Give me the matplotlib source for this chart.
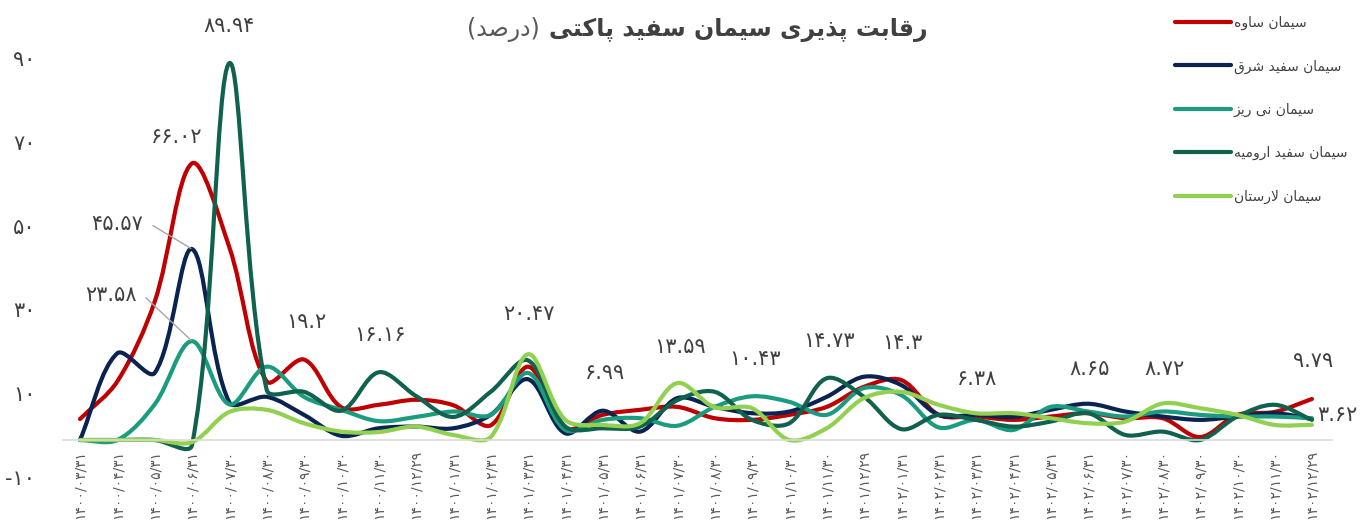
import math
import matplotlib
matplotlib.use('Agg')
import matplotlib.pyplot as plt
from matplotlib.path import Path
from matplotlib.patches import PathPatch
from matplotlib.lines import Line2D
from matplotlib.transforms import ScaledTranslation

plt.rcParams['font.family'] = ['DejaVu Sans']

# data
dates = ['1400/03/31', '1400/04/31', '1400/05/31', '1400/06/31', '1400/07/30', '1400/08/30',
         '1400/09/30', '1400/10/30', '1400/11/30', '1400/12/29',
         '1401/01/31', '1401/02/31', '1401/03/31', '1401/04/31', '1401/05/31', '1401/06/31',
         '1401/07/30', '1401/08/30', '1401/09/30', '1401/10/30', '1401/11/30', '1401/12/29',
         '1402/01/31', '1402/02/31', '1402/03/31', '1402/04/31', '1402/05/31', '1402/06/31',
         '1402/07/30', '1402/08/30', '1402/09/30', '1402/10/30', '1402/11/30', '1402/12/29']

saveh = [5.0, 14.0, 33.0, 66.02, 46.0, 14.0, 19.2, 7.8, 8.4, 9.6,
         8.3, 3.5, 17.5, 2.8, 6.0, 7.2, 7.9, 5.2, 4.8, 6.0, 7.9, 12.7,
         14.3, 6.0, 5.6, 4.8, 5.6, 6.4, 5.2, 5.2, 0.7, 6.0, 6.7, 9.79]
shargh = [0.0, 20.7, 16.0, 45.57, 9.0, 10.3, 6.0, 1.0, 2.8, 3.2,
          2.8, 6.0, 14.5, 1.6, 6.99, 2.0, 10.0, 7.9, 6.4, 6.8, 10.3, 15.1,
          13.1, 6.0, 6.0, 5.5, 7.2, 8.65, 6.8, 5.6, 4.8, 5.6, 6.4, 5.0]
neyriz = [0.0, 0.0, 8.5, 23.58, 8.5, 17.5, 10.3, 7.2, 4.5, 5.5,
          6.8, 6.0, 16.0, 2.4, 4.8, 5.2, 3.4, 7.9, 10.43, 9.1, 6.0, 12.4,
          10.7, 3.0, 4.8, 2.4, 7.9, 6.8, 5.6, 6.8, 6.0, 5.6, 5.6, 5.2]
orumieh = [0.0, 0.0, 0.0, -1.2, 89.94, 12.0, 11.5, 7.0, 16.16, 10.5,
           5.5, 11.5, 19.0, 3.2, 2.8, 3.2, 9.5, 11.5, 4.8, 4.0, 14.73, 10.3,
           2.6, 6.0, 4.8, 3.2, 4.4, 6.4, 1.2, 2.0, 0.0, 5.6, 8.4, 4.8]
larestan = [0.0, 0.0, 0.0, -0.5, 6.7, 7.2, 4.0, 2.0, 1.9, 3.2,
            1.2, 0.7, 20.47, 4.8, 3.6, 4.0, 13.59, 7.8, 7.6, 0.0, 2.8, 10.0,
            11.5, 8.4, 6.38, 6.4, 5.2, 4.0, 4.4, 8.72, 7.6, 6.0, 3.6, 3.62]

names = ['سیمان ساوه', 'سیمان سفید شرق', 'سیمان نی ریز', 'سیمان سفید ارومیه', 'سیمان لارستان']
colors = ['#C00000', '#0B2350', '#1C9C7E', '#10624E', '#92D050']
title_main = 'رقابت پذیری سیمان سفید پاکتی'
title_unit = '(درصد)'
yticks = [-10, 10, 30, 50, 70, 90]

# arabic letters -> (isolated, final, initial, medial)
FORMS = {
    'ا': ('\uFE8D', '\uFE8E', None, None),
    'ب': ('\uFE8F', '\uFE90', '\uFE91', '\uFE92'),
    'پ': ('\uFB56', '\uFB57', '\uFB58', '\uFB59'),
    'ت': ('\uFE95', '\uFE96', '\uFE97', '\uFE98'),
    'د': ('\uFEA9', '\uFEAA', None, None),
    'ذ': ('\uFEAB', '\uFEAC', None, None),
    'ر': ('\uFEAD', '\uFEAE', None, None),
    'ز': ('\uFEAF', '\uFEB0', None, None),
    'س': ('\uFEB1', '\uFEB2', '\uFEB3', '\uFEB4'),
    'ش': ('\uFEB5', '\uFEB6', '\uFEB7', '\uFEB8'),
    'ص': ('\uFEB9', '\uFEBA', '\uFEBB', '\uFEBC'),
    'ف': ('\uFED1', '\uFED2', '\uFED3', '\uFED4'),
    'ق': ('\uFED5', '\uFED6', '\uFED7', '\uFED8'),
    'ک': ('\uFB8E', '\uFB8F', '\uFB90', '\uFB91'),
    'ل': ('\uFEDD', '\uFEDE', '\uFEDF', '\uFEE0'),
    'م': ('\uFEE1', '\uFEE2', '\uFEE3', '\uFEE4'),
    'ن': ('\uFEE5', '\uFEE6', '\uFEE7', '\uFEE8'),
    'ه': ('\uFEE9', '\uFEEA', '\uFEEB', '\uFEEC'),
    'و': ('\uFEED', '\uFEEE', None, None),
    'ی': ('\uFBFC', '\uFBFD', '\uFBFE', '\uFBFF'),
}


def fa(text):
    # shape letters and put them in visual (right to left) order
    out = []
    i = 0
    while i < len(text):
        c = text[i]
        if c not in FORMS:
            out.append(c)
            i += 1
            continue
        prev = text[i - 1] if i > 0 else ''
        joins_prev = prev in FORMS and FORMS[prev][2] is not None
        if c == 'ل' and i + 1 < len(text) and text[i + 1] == 'ا':
            out.append('\uFEFC' if joins_prev else '\uFEFB')
            i += 2
            continue
        nxt = text[i + 1] if i + 1 < len(text) else ''
        joins_next = FORMS[c][2] is not None and nxt in FORMS
        iso, fin, ini, med = FORMS[c]
        if joins_prev and joins_next:
            out.append(med)
        elif joins_next:
            out.append(ini)
        elif joins_prev:
            out.append(fin)
        else:
            out.append(iso)
        i += 1
    mirror = {'(': ')', ')': '('}
    return ''.join(mirror.get(ch, ch) for ch in reversed(out))


DIGITS = str.maketrans('0123456789', '۰۱۲۳۴۵۶۷۸۹')


def fa_num(v):
    s = f'{v:.2f}'.rstrip('0').rstrip('.')
    return s.translate(DIGITS)


def smooth_path(xs, ys, sx=37.33, sy=4.19):
    # smoothed line like excel, control arms weighted by segment length (in pixels)
    pts = list(zip(xs, ys))
    n = len(pts)

    def dist(a, b):
        return math.hypot((b[0] - a[0]) * sx, (b[1] - a[1]) * sy)

    verts = [pts[0]]
    codes = [Path.MOVETO]
    for i in range(n - 1):
        p0 = pts[i - 1] if i > 0 else pts[i]
        p1 = pts[i]
        p2 = pts[i + 1]
        p3 = pts[i + 2] if i + 2 < n else pts[i + 1]
        d01, d12, d23 = dist(p0, p1), dist(p1, p2), dist(p2, p3)
        f1 = d12 / (d01 + d12) / 3 if d01 + d12 > 0 else 0
        f2 = d12 / (d12 + d23) / 3 if d12 + d23 > 0 else 0
        c1 = (p1[0] + (p2[0] - p0[0]) * f1, p1[1] + (p2[1] - p0[1]) * f1)
        c2 = (p2[0] - (p3[0] - p1[0]) * f2, p2[1] - (p3[1] - p1[1]) * f2)
        verts += [c1, c2, p2]
        codes += [Path.CURVE4] * 3
    return Path(verts, codes)


W, H = 1363, 530
fig = plt.figure(figsize=(W / 100, H / 100), dpi=100)
ax = fig.add_axes([63.2 / W, (H - 481.9) / H, (1332.5 - 63.2) / W, (481.9 - 21) / H])

x = list(range(len(dates)))
series = [saveh, shargh, neyriz, orumieh, larestan]
for vals, col in zip(series, colors):
    ax.add_patch(PathPatch(smooth_path(x, vals), fill=False, edgecolor=col, lw=3,
                           capstyle='round', joinstyle='round'))

ax.set_xlim(-0.45, 33.55)
ax.set_ylim(-10, 100)
for s in ['top', 'right', 'left']:
    ax.spines[s].set_visible(False)
ax.spines['bottom'].set_position(('data', 0))
ax.spines['bottom'].set_color('#D9D9D9')
ax.spines['bottom'].set_linewidth(1.2)

ax.set_xticks(x)
ax.set_xticklabels([d.translate(DIGITS) for d in dates], rotation=90, fontsize=10, color='#595959', va='top')
ax.set_yticks(yticks)
ax.set_yticklabels([fa_num(v) for v in yticks], fontsize=15, color='#404040')
ax.tick_params(axis='x', length=0, pad=7)
ax.tick_params(axis='y', length=0, pad=20)
for tl in ax.get_yticklabels():
    tl.set_transform(tl.get_transform() + ScaledTranslation(0, 5 / 100, fig.dpi_scale_trans))

lab = dict(fontsize=15, color='#404040', ha='center', va='center', textcoords='offset points')
ax.annotate(fa_num(orumieh[4]), (4, orumieh[4]), xytext=(0, 27), **lab)
ax.annotate(fa_num(saveh[3]), (3, saveh[3]), xytext=(-11, 19), **lab)
ax.annotate(fa_num(saveh[6]), (6, saveh[6]), xytext=(2, 27), **lab)
ax.annotate(fa_num(orumieh[8]), (8, orumieh[8]), xytext=(1, 27), **lab)
ax.annotate(fa_num(larestan[12]), (12, larestan[12]), xytext=(1, 29), **lab)
ax.annotate(fa_num(shargh[14]), (14, shargh[14]), xytext=(2, 27), **lab)
ax.annotate(fa_num(larestan[16]), (16, larestan[16]), xytext=(2, 26), **lab)
ax.annotate(fa_num(neyriz[18]), (18, neyriz[18]), xytext=(2, 27), **lab)
ax.annotate(fa_num(orumieh[20]), (20, orumieh[20]), xytext=(2, 27), **lab)
ax.annotate(fa_num(saveh[22]), (22, saveh[22]), xytext=(1, 27), **lab)
ax.annotate(fa_num(larestan[24]), (24, larestan[24]), xytext=(1, 25), **lab)
ax.annotate(fa_num(shargh[27]), (27, shargh[27]), xytext=(1, 25), **lab)
ax.annotate(fa_num(larestan[29]), (29, larestan[29]), xytext=(1, 25), **lab)
ax.annotate(fa_num(saveh[33]), (33, saveh[33]), xytext=(1, 27), **lab)
ax.annotate(fa_num(larestan[33]), (33, larestan[33]), xytext=(4, 7), fontsize=15, color='#404040',
            ha='left', va='center', textcoords='offset points')

leader = dict(arrowstyle='-', color='#A6A6A6', lw=1, relpos=(1, 0.5), shrinkA=5, shrinkB=1,
              connectionstyle='arc,angleA=0,armA=7,angleB=0,armB=0,rad=0')
ax.annotate(fa_num(shargh[3]), (3, shargh[3]), xytext=(-35, 18), textcoords='offset points',
            fontsize=15, color='#404040', ha='right', va='center', arrowprops=leader)
ax.annotate(fa_num(neyriz[3]), (3, neyriz[3]), xytext=(-40, 33), textcoords='offset points',
            fontsize=15, color='#404040', ha='right', va='center', arrowprops=leader)

# title: bold part and the unit in normal weight on its left
t = fig.text(928 / W, 1 - 30 / H, fa(title_main), fontsize=17, fontweight='bold', color='#404040',
             ha='right', va='center')
ax.annotate(fa(title_unit), xy=(0, 0.5), xycoords=t, xytext=(-7, 0), textcoords='offset points',
            fontsize=17, color='#595959', ha='right', va='center')

# legend
handles = [Line2D([], [], color=c, lw=3, solid_capstyle='round') for c in colors]
ax.legend(handles, [fa(n) for n in names], loc='upper left', bbox_to_anchor=(1168 / W, 1 - 9 / H),
          bbox_transform=fig.transFigure, frameon=False, fontsize=10, handlelength=4.0,
          handletextpad=0.25, labelspacing=2.1, borderpad=0, labelcolor='#404040')

fig.savefig('out.png', dpi=100)
